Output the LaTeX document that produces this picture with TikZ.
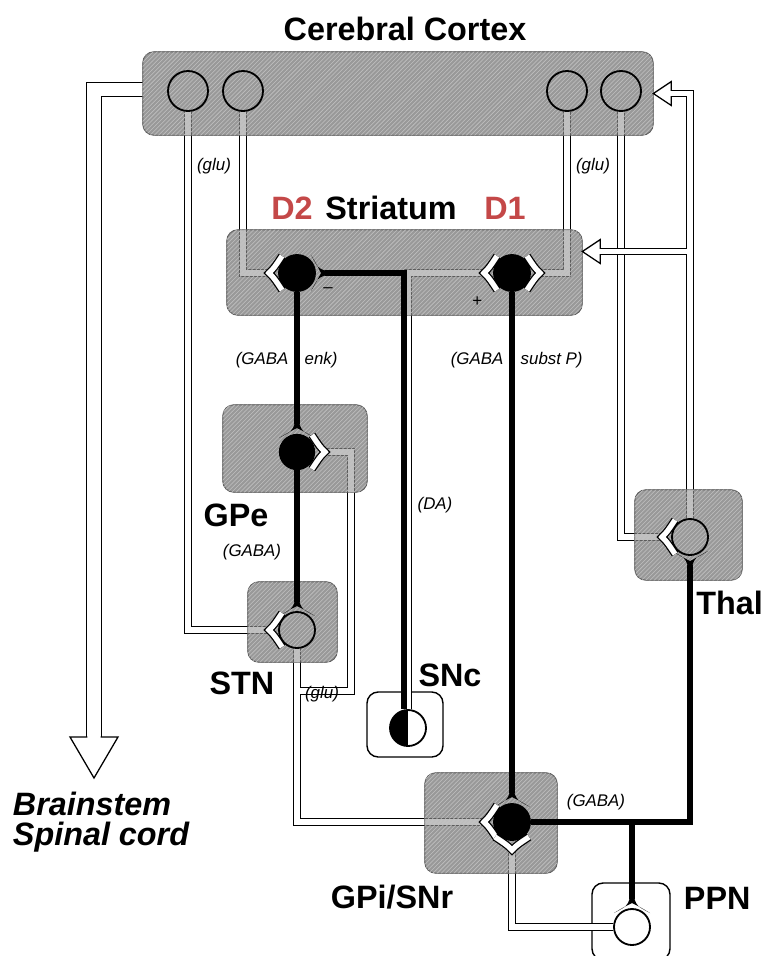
\documentclass[tikz,border=0pt]{standalone}
\usepackage{fontspec}
\setmainfont{Liberation Sans}
\usepackage{xcolor}
\usetikzlibrary{arrows.meta, positioning, calc, fit, backgrounds, patterns}
\definecolor{dred}{RGB}{196,72,72}
\pgfdeclarelayer{boxes}
\pgfdeclarelayer{veil}
\pgfsetlayers{boxes,veil,main}

\begin{document}
\begin{tikzpicture}[
  x=0.025cm, y=-0.025cm,
  lbl/.style={font=\fontsize{23}{26}\selectfont\bfseries},
  tag/.style={font=\fontsize{12}{14}\selectfont\itshape, inner sep=1pt},
  hatchbox/.style={draw=gray!70!black, line width=0.5pt, rounded corners=0.28cm, inner sep=0pt,
    fill=gray!80, postaction={pattern=north east lines, pattern color=gray!52}},
  plainbox/.style={draw, line width=1pt, rounded corners=0.28cm, inner sep=0pt, fill=white},
  glu/.style={double=white, double distance=3.8pt, line width=0.9pt},
  bigglu/.style={double=white, double distance=9.5pt, line width=0.9pt},
  gaba/.style={line width=3.6pt},
  cell/.style={circle, draw, line width=1.3pt, minimum size=0.9cm, inner sep=0pt},
  glufork/.pic={\draw[glu, line join=miter] (13,-17) .. controls (5,-5) .. (0,0) .. controls (5,5) .. (13,17);},
  gabafork/.pic={\fill (0,-2.5) .. controls (7,-5) .. (14,-18) .. controls (8,-8) .. (4,0)
     .. controls (8,8) .. (14,18) .. controls (7,5) .. (0,2.5) -- cycle;},
  pics/openhead/.style n args={3}{code={
     \fill[white] (0,0) -- (-#1,-#2) -- (-#1,#2) -- cycle;
     \draw[line width=0.9pt, line join=miter] (-#1,-#3) -- (-#1,-#2) -- (0,0) -- (-#1,#2) -- (-#1,#3);}}
]
\useasboundingbox (0,0) rectangle (763,956);
% neurons
\node[cell, minimum size=1cm] (cx1) at (188,91) {};
\node[cell, minimum size=1cm] (cx2) at (243,91) {};
\node[cell, minimum size=1cm] (cx3) at (567,91) {};
\node[cell, minimum size=1cm] (cx4) at (621,91) {};
\node[cell, fill=black] (d2) at (297,273) {};
\node[cell, fill=black] (d1) at (512,273) {};
\node[cell, fill=black, minimum size=0.86cm] (gpe) at (297,452) {};
\node[cell] (stn) at (297,630) {};
\node[cell, fill=white, path picture={\fill[black] (path picture bounding box.south west) rectangle (path picture bounding box.north);}] (snc) at (408,728) {};
\node[cell, fill=black] (gpi) at (512,822) {};
\node[cell] (thal) at (690,537) {};
\node[cell, fill=white] (ppn) at (632,927) {};
% synapse points
\coordinate (d2L) at ($(d2)+(-28,0)$);
\coordinate (d2R) at ($(d2)+(28,0)$);
\coordinate (d1L) at ($(d1)+(-28,0)$);
\coordinate (d1R) at ($(d1)+(28,0)$);
\coordinate (gpeT) at ($(gpe)+(0,-28)$);
\coordinate (gpeR) at ($(gpe)+(28,0)$);
\coordinate (stnT) at ($(stn)+(0,-28)$);
\coordinate (stnL) at ($(stn)+(-28,0)$);
\coordinate (gpiT) at ($(gpi)+(0,-29)$);
\coordinate (gpiL) at ($(gpi)+(-28,0)$);
\coordinate (gpiB) at ($(gpi)+(0,28)$);
\coordinate (thalB) at ($(thal)+(0,28)$);
\coordinate (thalL) at ($(thal)+(-28,0)$);
\coordinate (ppnT) at ($(ppn)+(0,-28)$);
% boxes and glu paths
\begin{pgfonlayer}{boxes}
\node[hatchbox, fit={(143,52) (653,135)}] (ctx) {};
\node[hatchbox, fit={(227,230) (582,315)}] (str) {};
\node[hatchbox, fit={(223,405) (367,492)}] (gpebox) {};
\node[hatchbox, fit={(248,582) (337,662)}] (stnbox) {};
\node[hatchbox, fit={(425,773) (557,873)}] (gpibox) {};
\node[hatchbox, fit={(635,490) (742,580)}] (thalbox) {};
\node[plainbox, fit={(367,692) (443,757)}] (sncbox) {};
\node[plainbox, fit={(592,883) (670,960)}] (ppnbox) {};
\coordinate (strtip) at ($(str.east)+(0,-21)$);
\coordinate (bstip) at (94,778);
\draw[glu] (cx1.south) |- (stnL);
\draw[glu] (cx2.south) |- (d2L);
\draw[glu] (cx3.south) |- (d1R);
\draw[glu] (cx4.south) |- (thalL);
\draw[glu] (thal.north) |- ($(ctx.east)+(18,0)$) (thal.north |- strtip) -- ($(strtip)+(18,0)$);
\draw[glu] (stn.south) |- (gpiL) ($(stn.south)+(0,42)$) -| ($(gpeR)+(26,0)$) -- (gpeR);
\draw[glu] (snc.north) |- (d1L);
\draw[glu] (ppn.west) -| (gpiB);
\draw[bigglu] ($(ctx.west)+(0,-4)$) -| ($(bstip)+(0,-41)$);
\end{pgfonlayer}
\begin{pgfonlayer}{veil}
\foreach \b in {ctx,str,gpebox,stnbox,gpibox,thalbox}
  \path[hatchbox, fill opacity=0.6] (\b.south west) rectangle (\b.north east);
\end{pgfonlayer}
% gaba paths
\draw[gaba] (d2.south) -- (gpeT);
\draw[gaba] (gpe.south) -- (stnT);
\draw[gaba] (d1.south) -- (gpiT);
\draw[gaba] ($(snc.north)+(-4,0)$) |- (d2R);
\draw[gaba] (gpi.east) -| (thalB) (gpi.east -| ppnT) -- (ppnT);
% synapses
\pic at (d2L) {glufork};
\pic[rotate=180] at (d2R) {gabafork};
\pic at (d1L) {glufork};
\pic[rotate=180] at (d1R) {glufork};
\pic[rotate=-90] at (gpeT) {gabafork};
\pic[rotate=180] at (gpeR) {glufork};
\pic[rotate=-90] at (stnT) {gabafork};
\pic at (stnL) {glufork};
\pic[rotate=-90] at (gpiT) {gabafork};
\pic at (gpiL) {glufork};
\pic[rotate=90] at (gpiB) {glufork};
\pic[rotate=90] at (thalB) {gabafork};
\pic at (thalL) {glufork};
\pic[rotate=-90] at (ppnT) {gabafork};
% open arrow heads
\pic[rotate=180] at (ctx.east) {openhead={18}{12}{2.7}};
\pic[rotate=180] at (strtip) {openhead={18}{12}{2.7}};
\pic[rotate=-90] at (bstip) {openhead={41}{24}{6.7}};
% labels
\node[lbl] (ttl) at (405,29) {Cerebral Cortex};
\node[lbl] (strlbl) at (391,208) {Striatum};
\node[lbl, text=dred] (d2lbl) at (292,208) {D2};
\node[lbl, text=dred] (d1lbl) at (505,208) {D1};
\node[lbl] (gpelbl) at (236,515) {GPe};
\node[lbl] (stnlbl) at (242,683) {STN};
\node[lbl] (snclbl) at (450,675) {SNc};
\node[lbl] (gpilbl) at (392,897) {GPi/SNr};
\node[lbl, anchor=west] (ppnlbl) at (679,898) {PPN};
\node[lbl, anchor=west, inner sep=0pt] (thallbl) at (696,603) {Thal};
\node[lbl, font=\fontsize{23}{21.5}\selectfont\bfseries\itshape, align=left, anchor=west] (bslbl) at (8,822) {Brainstem\\Spinal cord};
\node[tag] (glu1) at (214,166) {(glu)};
\node[tag] (glu2) at (593,166) {(glu)};
\node[tag, anchor=east] (enk1) at (290,360) {(GABA};
\node[tag, anchor=west] (enk2) at (303,360) {enk)};
\node[tag, anchor=east] (sp1) at (505,360) {(GABA};
\node[tag, anchor=west] (sp2) at (519,360) {subst P)};
\node[tag] (dalbl) at (435,505) {(DA)};
\node[tag] (gabagpe) at (252,552) {(GABA)};
\node[tag] (glustn) at (322,694) {(glu)};
\node[tag] (gabagpi) at (596,802) {(GABA)};
\node[tag] (minus) at (328,290) {\textendash};
\node[tag] (plus) at (477,302) {+};
\end{tikzpicture}
\end{document}
